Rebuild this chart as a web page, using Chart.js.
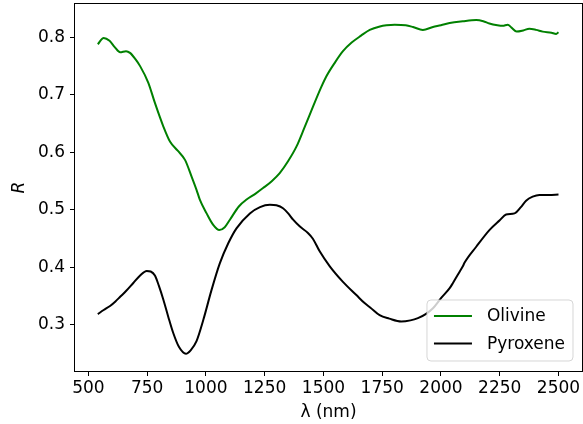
<!DOCTYPE html>
<html>
<head>
<meta charset="utf-8">
<script src="https://cdn.jsdelivr.net/npm/chart.js@4.4.0/dist/chart.umd.min.js"></script>
<style>
  html, body { margin: 0; padding: 0; background: #fff; }
</style>
</head>
<body>
<canvas id="spectra" width="583" height="424"></canvas>
<script>
// wavelength (nm) and reflectance
const olivineWl = [540, 565, 590, 612, 635, 660, 677, 700, 720, 755, 783, 819, 847, 880, 911, 939, 960, 974,
  1003, 1031, 1057, 1080, 1102, 1140, 1173, 1210, 1243, 1280, 1314, 1350, 1385, 1420, 1456, 1490, 1512,
  1550, 1583, 1620, 1660, 1697, 1740, 1768, 1803, 1850, 1881, 1923, 1966, 2000, 2037, 2093, 2150, 2180,
  2206, 2240, 2263, 2284, 2300, 2322, 2350, 2376, 2405, 2433, 2470, 2490, 2500];
const olivineR = [0.788, 0.799, 0.794, 0.783, 0.774, 0.776, 0.773, 0.762, 0.750, 0.721, 0.686, 0.645, 0.619,
  0.603, 0.587, 0.558, 0.535, 0.518, 0.494, 0.474, 0.465, 0.470, 0.483, 0.506, 0.518, 0.528, 0.538, 0.550,
  0.564, 0.585, 0.610, 0.644, 0.680, 0.713, 0.732, 0.757, 0.776, 0.791, 0.803, 0.813, 0.819, 0.821, 0.822,
  0.821, 0.818, 0.813, 0.818, 0.821, 0.825, 0.828, 0.830, 0.828, 0.824, 0.821, 0.820, 0.822, 0.817, 0.810,
  0.812, 0.815, 0.813, 0.810, 0.808, 0.806, 0.809];

const pyroxeneWl = [540, 565, 592, 615, 635, 660, 691, 720, 748, 765, 783, 800, 819, 840, 861, 885, 915, 935,
  960, 989, 1024, 1059, 1095, 1130, 1187, 1230, 1272, 1300, 1328, 1350, 1371, 1400, 1434, 1455, 1484, 1527,
  1583, 1640, 1675, 1700, 1739, 1780, 1831, 1870, 1902, 1935, 1966, 2001, 2037, 2051, 2080, 2093,
  2100, 2150, 2206, 2250, 2277, 2313, 2340, 2362, 2390, 2419, 2460, 2500];
const pyroxeneR = [0.319, 0.326, 0.333, 0.341, 0.349, 0.359, 0.373, 0.386, 0.394, 0.393, 0.386, 0.368, 0.344,
  0.314, 0.286, 0.262, 0.250, 0.256, 0.272, 0.309, 0.361, 0.407, 0.442, 0.468, 0.494, 0.505, 0.509, 0.508,
  0.503, 0.494, 0.483, 0.471, 0.460, 0.450, 0.428, 0.402, 0.375, 0.352, 0.338, 0.330, 0.317, 0.311,
  0.306, 0.308, 0.312, 0.319, 0.329, 0.347, 0.364, 0.373, 0.393, 0.402, 0.408, 0.436, 0.465, 0.482, 0.492,
  0.494, 0.505, 0.516, 0.523, 0.526, 0.526, 0.527];

const xTicks = [500, 750, 1000, 1250, 1500, 1750, 2000, 2250, 2500];
const yTicks = [0.3, 0.4, 0.5, 0.6, 0.7, 0.8];

const FONT = 'DejaVu Sans';

function toPoints(xs, ys) {
  return xs.map((x, i) => ({ x: x, y: ys[i] }));
}

// box around the plot, like matplotlib spines
const frame = {
  id: 'frame',
  afterDatasetsDraw(chart) {
    const { ctx, chartArea: a } = chart;
    ctx.save();
    ctx.strokeStyle = '#000';
    ctx.lineWidth = 1;
    ctx.strokeRect(a.left - 0.5, a.top - 0.5, a.right - a.left + 1, a.bottom - a.top + 1);
    ctx.restore();
  }
};

// legend drawn inside the plot, lower right
const insideLegend = {
  id: 'insideLegend',
  afterDatasetsDraw(chart) {
    const { ctx, chartArea: a } = chart;
    const sets = chart.data.datasets;
    ctx.save();
    ctx.font = '17px "' + FONT + '"';
    const textW = Math.max(...sets.map(d => ctx.measureText(d.label).width));
    const w = 60 + textW + 8;
    const h = 61;
    const x0 = a.right - 9 - w;
    const y0 = a.bottom - 10 - h;
    ctx.beginPath();
    ctx.roundRect(x0, y0, w, h, 4);
    ctx.fillStyle = 'rgba(255,255,255,0.8)';
    ctx.fill();
    ctx.strokeStyle = 'rgba(204,204,204,0.8)';
    ctx.lineWidth = 1;
    ctx.stroke();
    sets.forEach((d, i) => {
      const y = y0 + 16 + i * 27.5;
      ctx.beginPath();
      ctx.moveTo(x0 + 7, y);
      ctx.lineTo(x0 + 45, y);
      ctx.strokeStyle = d.borderColor;
      ctx.lineWidth = 2;
      ctx.stroke();
      ctx.fillStyle = '#000';
      ctx.textBaseline = 'middle';
      ctx.fillText(d.label, x0 + 60, y + 1);
    });
    ctx.restore();
  }
};

const tickFont = { family: FONT, size: 17 };

new Chart(document.getElementById('spectra'), {
  type: 'line',
  data: {
    datasets: [
      { label: 'Olivine', data: toPoints(olivineWl, olivineR), borderColor: '#008000', borderWidth: 2,
        pointRadius: 0, cubicInterpolationMode: 'monotone', fill: false },
      { label: 'Pyroxene', data: toPoints(pyroxeneWl, pyroxeneR), borderColor: '#000000', borderWidth: 2,
        pointRadius: 0, cubicInterpolationMode: 'monotone', fill: false }
    ]
  },
  options: {
    responsive: false,
    animation: false,
    devicePixelRatio: 1,
    layout: { padding: { top: 4, right: 1, left: 0, bottom: 0 } },
    plugins: { legend: { display: false }, tooltip: { enabled: false } },
    scales: {
      x: {
        type: 'linear',
        min: 443,
        max: 2600,
        afterBuildTicks: axis => { axis.ticks = xTicks.map(v => ({ value: v })); },
        afterFit: axis => { axis.height = 53; axis.paddingLeft = 0; axis.paddingRight = 0; },
        ticks: { font: tickFont, color: '#000', padding: 2, maxRotation: 0, autoSkip: false,
          callback: v => String(v) },
        grid: { drawOnChartArea: false, drawTicks: true, tickLength: 5, tickColor: '#000', tickWidth: 1 },
        border: { display: false },
        title: { display: true, text: 'λ (nm)', color: '#000', font: { family: FONT, size: 17 },
          padding: { top: 0, bottom: 1 } }
      },
      y: {
        min: 0.22,
        max: 0.858,
        afterBuildTicks: axis => { axis.ticks = yTicks.map(v => ({ value: v })); },
        afterFit: axis => { axis.width = 75; axis.paddingTop = 0; axis.paddingBottom = 0; },
        ticks: { font: tickFont, color: '#000', padding: 5, callback: v => v.toFixed(1) },
        grid: { drawOnChartArea: false, drawTicks: true, tickLength: 5, tickColor: '#000', tickWidth: 1 },
        border: { display: false },
        title: { display: true, text: 'R', color: '#000', font: { family: FONT, size: 17, style: 'italic' },
          padding: { top: 9, bottom: 0 } }
      }
    }
  },
  plugins: [frame, insideLegend]
});
</script>
</body>
</html>
